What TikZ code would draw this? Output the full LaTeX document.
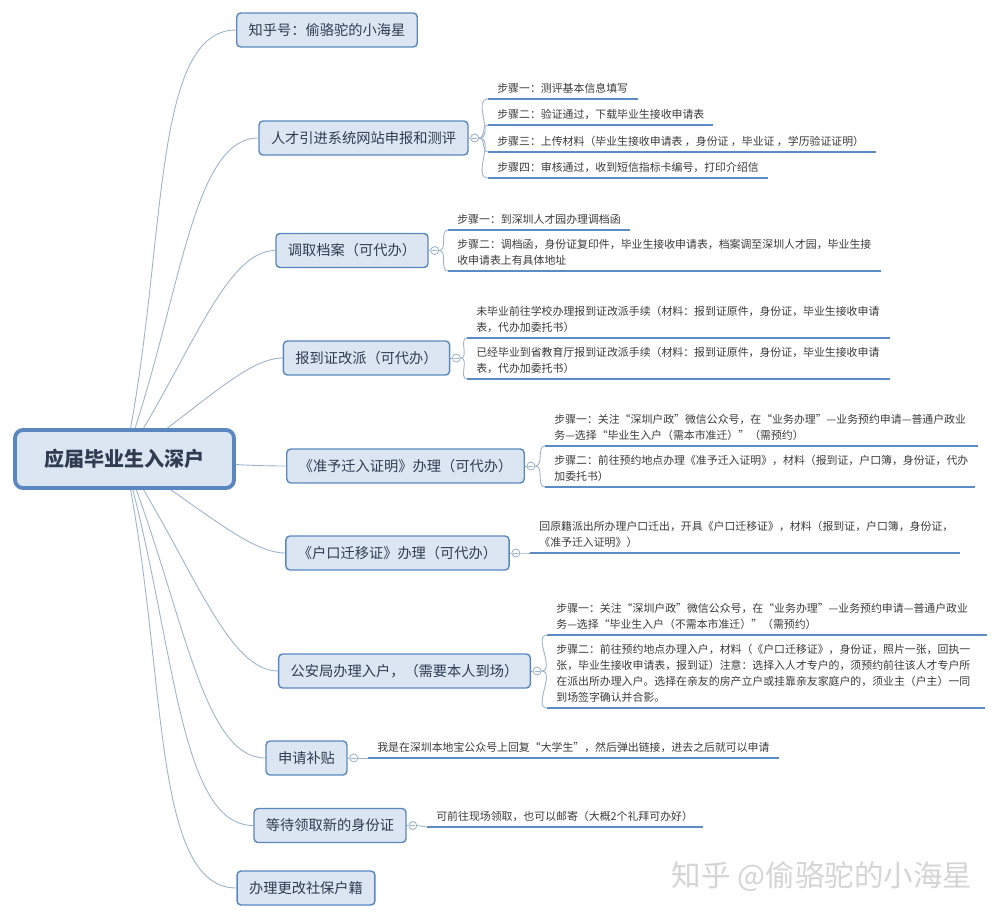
\documentclass[tikz,border=0pt]{standalone}
\usepackage{fontspec}
\setmainfont{Noto Sans CJK SC}
\usetikzlibrary{backgrounds}
\definecolor{topicfill}{HTML}{DCE6F2}
\definecolor{topicline}{HTML}{5A87C0}
\definecolor{topictext}{HTML}{2F3C52}
\definecolor{leafline}{HTML}{5C8CC6}
\definecolor{leaftext}{HTML}{3A3A3A}
\definecolor{linkcol}{HTML}{9DB3CC}
\newcommand\leaffont{\fontsize{6.2}{9.1}\selectfont}
\newcommand\topicfont{\fontsize{8.1}{10}\selectfont}
\newcommand\rootfont{\fontsize{11.4}{13}\selectfont\bfseries}
\begin{document}
\begin{tikzpicture}
	[	x=0.02cm, y=-0.02cm,
		topic/.style={rectangle, rounded corners=0.08cm, draw=topicline, fill=topicfill, line width=0.8pt, minimum height=0.68cm, inner xsep=0.24cm, font=\topicfont, text=topictext},
		root/.style={topic, rounded corners=0.16cm, line width=2.2pt, minimum width=4.38cm, minimum height=1.16cm, font=\rootfont},
		knob/.style={circle, draw=linkcol, fill=white, line width=0.5pt, minimum size=0.16cm, inner sep=0pt,
			path picture={\draw[linkcol, line width=0.4pt] ([xshift=-0.05cm]path picture bounding box.center) -- ([xshift=0.05cm]path picture bounding box.center);}},
		leaf/.style={anchor=south west, align=left, inner xsep=0.18cm, inner ysep=0.1cm, font=\leaffont, text=leaftext},
		uline/.style={draw=leafline, line width=1.5pt},
		link/.style={draw=linkcol, line width=0.5pt},
		twig/.style={link, out=0, in=180},
		branch/.style={link, in=180, out looseness=1.2, in looseness=0.5}
	]
	\useasboundingbox (0,0) rectangle (1000,919);

	\node[root] (root) at (124.5,459) {应届毕业生入深户};

	\node[topic] (n1) at (327,30) {知乎号：偷骆驼的小海星};
	\node[topic] (n2) at (363.5,138) {人才引进系统网站申报和测评};
	\node[topic] (n3) at (352,250.5) {调取档案（可代办）};
	\node[topic] (n4) at (366.5,358) {报到证改派（可代办）};
	\node[topic] (n5) at (405.5,466) {《准予迁入证明》办理（可代办）};
	\node[topic] (n6) at (397.5,553) {《户口迁移证》办理（可代办）};
	\node[topic] (n7) at (404.5,671) {公安局办理入户，（需要本人到场）};
	\node[topic] (n8) at (306.5,758) {申请补贴};
	\node[topic] (n9) at (330,825.5) {等待领取新的身份证};
	\node[topic] (n10) at (306,888) {办理更改社保户籍};

	\foreach \i in {2,...,9}
		\node[knob] (k\i) at ([xshift=0.12cm]n\i.east) {};

	\node[leaf] (a1) at (488,99) {步骤一：测评基本信息填写};
	\node[leaf] (a2) at (488,125) {步骤二：验证通过，下载毕业生接收申请表};
	\node[leaf] (a3) at (488,152) {步骤三：上传材料（毕业生接收申请表 ，身份证 ，毕业证 ，学历验证证明）};
	\node[leaf] (a4) at (488,178) {步骤四：审核通过，收到短信指标卡编号，打印介绍信};

	\node[leaf] (b1) at (448,230) {步骤一：到深圳人才园办理调档函};
	\node[leaf] (b2) at (448,271) {步骤二：调档函，身份证复印件，毕业生接收申请表，档案调至深圳人才园，毕业生接\\收申请表上有具体地址};

	\node[leaf] (c1) at (467,338) {未毕业前往学校办理报到证改派手续（材料：报到证原件，身份证，毕业生接收申请\\表，代办加委托书）};
	\node[leaf] (c2) at (467,379) {已经毕业到省教育厅报到证改派手续（材料：报到证原件，身份证，毕业生接收申请\\表，代办加委托书）};

	\node[leaf] (d1) at (545,446) {步骤一：关注“深圳户政”微信公众号，在“业务办理”—业务预约申请—普通户政业\\务—选择“毕业生入户（需本市准迁）”（需预约）};
	\node[leaf] (d2) at (545,487) {步骤二：前往预约地点办理《准予迁入证明》，材料（报到证，户口簿，身份证，代办\\加委托书）};

	\node[leaf] (e1) at (530,553) {回原籍派出所办理户口迁出，开具《户口迁移证》，材料（报到证，户口簿，身份证，\\《准予迁入证明》）};

	\node[leaf] (f1) at (547,635) {步骤一：关注“深圳户政”微信公众号，在“业务办理”—业务预约申请—普通户政业\\务—选择“毕业生入户（不需本市准迁）”（需预约）};
	\node[leaf] (f2) at (547,708) {步骤二：前往预约地点办理入户，材料（《户口迁移证》，身份证，照片一张，回执一\\张，毕业生接收申请表，报到证）注意：选择入人才专户的，须预约前往该人才专户所\\在派出所办理入户。选择在亲友的房产立户或挂靠亲友家庭户的，须业主（户主）一同\\到场签字确认并合影。};

	\node[leaf] (g1) at (368,758) {我是在深圳本地宝公众号上回复“大学生”，然后弹出链接，进去之后就可以申请};
	\node[leaf] (h1) at (427,827) {可前往现场领取，也可以邮寄（大概2个礼拜可办好）};

	\draw[uline] (a1.south west) -- ++(150,0);
	\draw[uline] (a2.south west) -- ++(225,0);
	\draw[uline] (a3.south west) -- ++(388,0);
	\draw[uline] (a4.south west) -- ++(280,0);
	\draw[uline] (b1.south west) -- ++(182,0);
	\draw[uline] (b2.south west) -- ++(433,0);
	\draw[uline] (c1.south west) -- ++(423,0);
	\draw[uline] (c2.south west) -- ++(423,0);
	\draw[uline] (d1.south west) -- ++(433,0);
	\draw[uline] (d2.south west) -- ++(430,0);
	\draw[uline] (e1.south west) -- ++(430,0);
	\draw[uline] (f1.south west) -- ++(440,0);
	\draw[uline] (f2.south west) -- ++(438,0);
	\draw[uline] (g1.south west) -- ++(411,0);
	\draw[uline] (h1.south west) -- ++(276,0);

	\node[text=black!17, font=\fontsize{16.8}{18}\selectfont] (mark) at (822,876) {知乎 @偷骆驼的小海星};

	\begin{scope}[on background layer]
		\draw[branch] (root.center) to[out=78] (n1.west);
		\draw[branch] (root.center) to[out=70] (n2.west);
		\draw[branch] (root.center) to[out=57] (n3.west);
		\draw[branch] (root.center) to[out=34] (n4.west);
		\draw[twig] (root.center) to (n5.west);
		\draw[branch] (root.center) to[out=-32] (n6.west);
		\draw[branch] (root.center) to[out=-57] (n7.west);
		\draw[branch] (root.center) to[out=-68] (n8.west);
		\draw[branch] (root.center) to[out=-74] (n9.west);
		\draw[branch] (root.center) to[out=-78] (n10.west);

		\foreach \i in {2,...,9}
			\draw[link] (n\i.east) -- (k\i.west);

		\foreach \l in {a1,a2,a3,a4}
			\draw[twig] (k2.east) to (\l.south west);
		\foreach \l in {b1,b2}
			\draw[twig] (k3.east) to (\l.south west);
		\foreach \l in {c1,c2}
			\draw[twig] (k4.east) to (\l.south west);
		\foreach \l in {d1,d2}
			\draw[twig] (k5.east) to (\l.south west);
		\draw[twig] (k6.east) to (e1.south west);
		\foreach \l in {f1,f2}
			\draw[twig] (k7.east) to (\l.south west);
		\draw[twig] (k8.east) to (g1.south west);
		\draw[twig] (k9.east) to (h1.south west);
	\end{scope}
\end{tikzpicture}
\end{document}
